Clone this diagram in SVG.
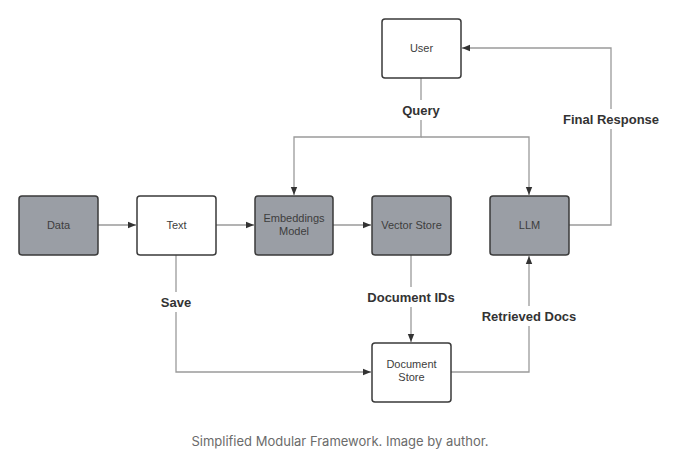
<svg xmlns="http://www.w3.org/2000/svg" width="680" height="451" viewBox="0 0 680 451">
<defs>
<marker id="ah" viewBox="0 0 10 10" refX="10" refY="5" markerWidth="8" markerHeight="8" markerUnits="userSpaceOnUse" orient="auto">
<path d="M0,1 L10,5 L0,9 z" fill="#333"/>
</marker>
<style>
.box{stroke:#3a3a3a;stroke-width:1.5}
.g{fill:#9a9ea5}
.w{fill:#fff}
.t{font-family:"Liberation Sans",Arial,sans-serif;font-size:11px;fill:#3d3d3d;text-anchor:middle}
.lbl{font-family:"Liberation Sans",Arial,sans-serif;font-size:13px;font-weight:bold;fill:#333;text-anchor:middle}
.c{fill:none;stroke:#9a9a9a;stroke-width:1.3}
.cap{font-family:Inter,"Liberation Sans",sans-serif;font-size:13px;fill:#6b6b6b;text-anchor:middle}
</style>
</defs>
<rect width="680" height="451" fill="#fff"/>
<g id="connectors">
<path class="c" d="M421,78 V137 H294 V195" marker-end="url(#ah)"/>
<path class="c" d="M421,137 H529 V195" marker-end="url(#ah)"/>
<path class="c" d="M569,225 H611 V48 H462" marker-end="url(#ah)"/>
<path class="c" d="M98,225 H136" marker-end="url(#ah)"/>
<path class="c" d="M216,225 H254" marker-end="url(#ah)"/>
<path class="c" d="M333,225 H371" marker-end="url(#ah)"/>
<path class="c" d="M411,255 V342" marker-end="url(#ah)"/>
<path class="c" d="M176,255 V372 H371" marker-end="url(#ah)"/>
<path class="c" d="M451,372 H529 V256" marker-end="url(#ah)"/>
<rect x="395" y="100" width="52" height="20" fill="#fff"/>
<rect x="560" y="109" width="102" height="20" fill="#fff"/>
<rect x="155" y="292" width="42" height="20" fill="#fff"/>
<rect x="364" y="287" width="94" height="20" fill="#fff"/>
<rect x="480" y="306" width="98" height="20" fill="#fff"/>
<text class="lbl" x="421" y="115">Query</text>
<text class="lbl" x="611" y="124">Final Response</text>
<text class="lbl" x="176" y="307">Save</text>
<text class="lbl" x="411" y="302">Document IDs</text>
<text class="lbl" x="529" y="321">Retrieved Docs</text>
</g>
<g id="user"><rect class="box w" x="382" y="19" width="79" height="59" rx="3"/><text class="t" x="421.5" y="52">User</text></g>
<g id="data"><rect class="box g" x="19" y="196" width="79" height="59" rx="3"/><text class="t" x="58.5" y="229">Data</text></g>
<g id="text"><rect class="box w" x="137" y="196" width="79" height="59" rx="3"/><text class="t" x="176.5" y="229">Text</text></g>
<g id="embeddings"><rect class="box g" x="255" y="196" width="78" height="59" rx="3"/><text class="t" x="294" y="222">Embeddings</text><text class="t" x="294" y="235">Model</text></g>
<g id="vectorstore"><rect class="box g" x="372" y="196" width="79" height="59" rx="3"/><text class="t" x="411.5" y="229">Vector Store</text></g>
<g id="llm"><rect class="box g" x="490" y="196" width="79" height="59" rx="3"/><text class="t" x="529.5" y="229">LLM</text></g>
<g id="docstore"><rect class="box w" x="372" y="343" width="79" height="59" rx="3"/><text class="t" x="411.5" y="368">Document</text><text class="t" x="411.5" y="381">Store</text></g>
<text class="cap" x="340" y="446">Simplified Modular Framework. Image by author.</text>
</svg>
